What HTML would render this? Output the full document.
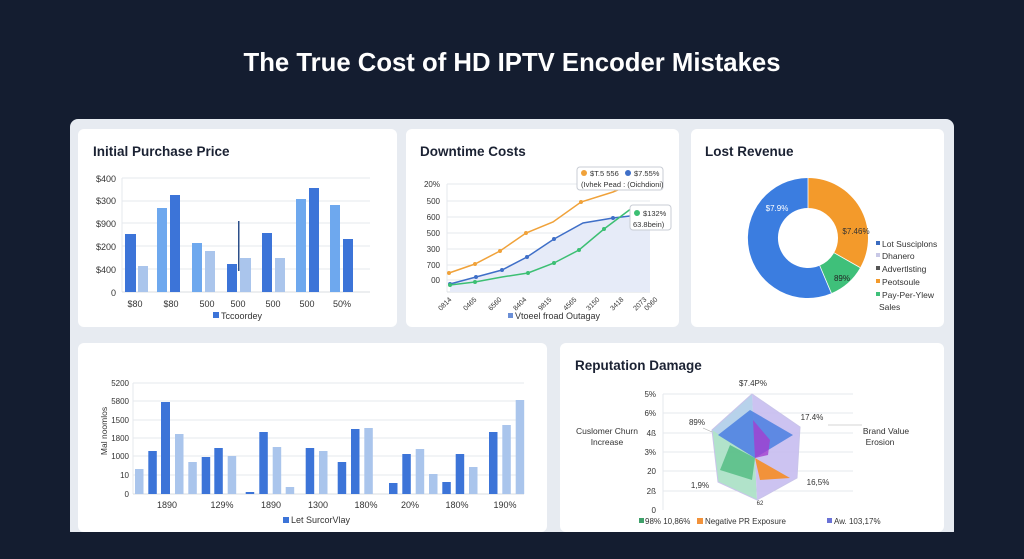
<!DOCTYPE html>
<html><head><meta charset="utf-8"><style>
html,body{margin:0;padding:0;background:#131c2f;}
svg{display:block;font-family:"Liberation Sans",sans-serif;}
.t{font-size:9px;fill:#333;}
.h{font-size:13.5px;font-weight:bold;fill:#1b2233;}
.g{stroke:#e6e9ee;stroke-width:1;}
.D{fill:#3c74d8}.M{fill:#6ea8ee}.L{fill:#aac5ec}
</style></head><body>
<svg width="1024" height="559" viewBox="0 0 1024 559" xmlns="http://www.w3.org/2000/svg">
<rect width="1024" height="559" fill="#141d30"/>
<text x="512" y="71" text-anchor="middle" font-size="26" font-weight="bold" fill="#fff" textLength="537" lengthAdjust="spacingAndGlyphs">The True Cost of HD IPTV Encoder Mistakes</text>
<rect x="70" y="119" width="884" height="420" rx="8" fill="#e7ebf1"/>
<rect x="78" y="129" width="319" height="198" rx="6" fill="#fff"/>
<rect x="406" y="129" width="273" height="198" rx="6" fill="#fff"/>
<rect x="691" y="129" width="253" height="198" rx="6" fill="#fff"/>
<rect x="78" y="343" width="469" height="189" rx="6" fill="#fff"/>
<rect x="560" y="343" width="384" height="189" rx="6" fill="#fff"/>
<rect x="0" y="532" width="1024" height="27" fill="#141d30"/>

<!-- Card1 -->
<text x="93" y="156" class="h">Initial Purchase Price</text>
<g class="g"><line x1="122" y1="178" x2="370" y2="178"/><line x1="122" y1="201" x2="370" y2="201"/><line x1="122" y1="223" x2="370" y2="223"/><line x1="122" y1="246" x2="370" y2="246"/><line x1="122" y1="269" x2="370" y2="269"/><line x1="122" y1="178" x2="122" y2="292"/></g>
<line x1="122" y1="292" x2="370" y2="292" stroke="#d8dce2"/>
<g class="t" text-anchor="end"><text x="116" y="182">$400</text><text x="116" y="204">$300</text><text x="116" y="227">$900</text><text x="116" y="250">$200</text><text x="116" y="273">$400</text><text x="116" y="296">0</text></g>
<rect x="125" y="234" width="11" height="58" class="D"/><rect x="138" y="266" width="10" height="26" class="L"/>
<rect x="157" y="208" width="10" height="84" class="M"/><rect x="170" y="195" width="10" height="97" class="D"/>
<rect x="192" y="243" width="10" height="49" class="M"/><rect x="205" y="251" width="10" height="41" class="L"/>
<rect x="227" y="264" width="10" height="28" class="D"/><rect x="238" y="221" width="1.5" height="50" fill="#2c4f8a"/><rect x="240" y="258" width="11" height="34" class="L"/>
<rect x="262" y="233" width="10" height="59" class="D"/><rect x="275" y="258" width="10" height="34" class="L"/>
<rect x="296" y="199" width="10" height="93" class="M"/><rect x="309" y="188" width="10" height="104" class="D"/>
<rect x="330" y="205" width="10" height="87" class="M"/><rect x="343" y="239" width="10" height="53" class="D"/>
<g class="t" text-anchor="middle"><text x="135" y="307">$80</text><text x="171" y="307">$80</text><text x="207" y="307">500</text><text x="238" y="307">500</text><text x="273" y="307">500</text><text x="307" y="307">500</text><text x="342" y="307">50%</text></g>
<rect x="213" y="312" width="6" height="6" class="D"/><text x="221" y="319" class="t">Tccoordey</text>

<!-- Card2 -->
<text x="420" y="156" class="h">Downtime Costs</text>
<g class="g"><line x1="447" y1="184" x2="650" y2="184"/><line x1="447" y1="201" x2="650" y2="201"/><line x1="447" y1="217" x2="650" y2="217"/><line x1="447" y1="233" x2="650" y2="233"/><line x1="447" y1="249" x2="650" y2="249"/><line x1="447" y1="265" x2="650" y2="265"/><line x1="447" y1="280" x2="650" y2="280"/><line x1="447" y1="184" x2="447" y2="292"/></g>
<line x1="447" y1="292" x2="650" y2="292" stroke="#d8dce2"/>
<polygon points="450,284 476,277 502,270 527,257 554,239 583,223 613,218 650,214 650,292 450,292" fill="#e6ebf8"/>
<g font-size="8" fill="#333" text-anchor="end"><text x="440" y="187">20%</text><text x="440" y="204">500</text><text x="440" y="220">600</text><text x="440" y="236">500</text><text x="440" y="252">300</text><text x="440" y="268">700</text><text x="440" y="283">00</text></g>
<polyline points="449,273 475,264 500,251 526,233 553,222 581,202 613,192 620,189" fill="none" stroke="#f0a23a" stroke-width="1.5"/>
<polyline points="450,284 476,277 502,270 527,257 554,239 583,223 613,218 630,216" fill="none" stroke="#3f6fc8" stroke-width="1.5"/>
<polyline points="450,285 475,282 502,277 528,273 554,263 579,250 604,229 632,208" fill="none" stroke="#3cbf73" stroke-width="1.5"/>
<g fill="#f0a23a"><circle cx="449" cy="273" r="2"/><circle cx="475" cy="264" r="2"/><circle cx="500" cy="251" r="2"/><circle cx="526" cy="233" r="2"/><circle cx="581" cy="202" r="2"/></g>
<g fill="#3f6fc8"><circle cx="450" cy="284" r="2"/><circle cx="476" cy="277" r="2"/><circle cx="502" cy="270" r="2"/><circle cx="527" cy="257" r="2"/><circle cx="554" cy="239" r="2"/><circle cx="613" cy="218" r="2"/></g>
<g fill="#3cbf73"><circle cx="450" cy="285" r="2"/><circle cx="475" cy="282" r="2"/><circle cx="528" cy="273" r="2"/><circle cx="554" cy="263" r="2"/><circle cx="579" cy="250" r="2"/><circle cx="604" cy="229" r="2"/></g>
<rect x="577" y="167" width="86" height="23" rx="3" fill="#fff" stroke="#c8ccd4"/>
<circle cx="584" cy="173" r="3" fill="#f0a23a"/><text x="590" y="176" font-size="7.5" fill="#333">$T.5 556</text>
<circle cx="628" cy="173" r="3" fill="#3f6fc8"/><text x="634" y="176" font-size="7.5" fill="#333">$7.55%</text>
<text x="581" y="187" font-size="7.5" fill="#333">(Ivhek Pead : (Oichdioni)</text>
<rect x="630" y="205" width="41" height="25" rx="3" fill="#fff" stroke="#c8ccd4"/>
<circle cx="637" cy="213" r="3" fill="#3cbf73"/><text x="643" y="216" font-size="7.5" fill="#333">$132%</text>
<text x="633" y="227" font-size="7.5" fill="#333">63.8bein)</text>
<g font-size="7" fill="#333" text-anchor="end">
<text transform="translate(452,300) rotate(-45)">0814</text><text transform="translate(477,300) rotate(-45)">0465</text><text transform="translate(502,300) rotate(-45)">6560</text><text transform="translate(527,300) rotate(-45)">8404</text><text transform="translate(552,300) rotate(-45)">9815</text><text transform="translate(577,300) rotate(-45)">4565</text><text transform="translate(600,300) rotate(-45)">3150</text><text transform="translate(624,300) rotate(-45)">3418</text><text transform="translate(647,300) rotate(-45)">2073</text><text transform="translate(658,300) rotate(-45)">0060</text></g>
<rect x="508" y="313" width="5" height="5" fill="#6b8fd6"/><text x="515" y="319" class="t">Vtoeel froad Outagay</text>

<!-- Card3 donut -->
<text x="705" y="156" class="h">Lost Revenue</text>
<path d="M808,178 A60,60 0 0 1 860.2,267.6 L834.1,252.8 A30,30 0 0 0 808,208 Z" fill="#f39a2b"/>
<path d="M860.2,267.6 A60,60 0 0 1 831.4,293.2 L819.7,265.6 A30,30 0 0 0 834.1,252.8 Z" fill="#3fc07a"/>
<path d="M831.4,293.2 A60,60 0 1 1 808,178 L808,208 A30,30 0 1 0 819.7,265.6 Z" fill="#3b7de0"/>
<g stroke="#fff" stroke-width="0.8"><line x1="808" y1="178" x2="808" y2="208"/><line x1="860.2" y1="267.6" x2="834.1" y2="252.8"/><line x1="831.4" y1="293.2" x2="819.7" y2="265.6"/></g>
<text x="777" y="211" font-size="8" fill="#fff" text-anchor="middle">$7.9%</text>
<text x="856" y="234" font-size="8" fill="#333" text-anchor="middle">$7.46%</text>
<text x="842" y="281" font-size="8" fill="#222" text-anchor="middle">89%</text>
<g font-size="8.5" fill="#333">
<rect x="876" y="241" width="4" height="4" fill="#3b6cc0"/><text x="882" y="247">Lot Susciplons</text>
<rect x="876" y="253" width="4" height="4" fill="#c8c8e6"/><text x="882" y="259">Dhanero</text>
<rect x="876" y="266" width="4" height="4" fill="#555"/><text x="882" y="272">Advertlsting</text>
<rect x="876" y="279" width="4" height="4" fill="#f39a2b"/><text x="882" y="285">Peotsoule</text>
<rect x="876" y="292" width="4" height="4" fill="#3fc07a"/><text x="882" y="298">Pay-Per-Ylew</text>
<text x="879" y="310">Sales</text></g>

<!-- Card4 -->
<g class="g"><line x1="133" y1="383" x2="524" y2="383"/><line x1="133" y1="401" x2="524" y2="401"/><line x1="133" y1="420" x2="524" y2="420"/><line x1="133" y1="438" x2="524" y2="438"/><line x1="133" y1="456" x2="524" y2="456"/><line x1="133" y1="475" x2="524" y2="475"/><line x1="133" y1="383" x2="133" y2="494"/></g>
<line x1="133" y1="494" x2="524" y2="494" stroke="#d8dce2"/>
<g font-size="8" fill="#333" text-anchor="end"><text x="129" y="386">5200</text><text x="129" y="404">5800</text><text x="129" y="423">1500</text><text x="129" y="441">1800</text><text x="129" y="459">1000</text><text x="129" y="478">10</text><text x="129" y="497">0</text></g>
<text transform="translate(107,431) rotate(-90)" font-size="8.5" fill="#333" text-anchor="middle">Mal noomlos</text>
<g>
<rect x="135" y="469" width="8.5" height="25" class="L"/><rect x="148.3" y="451" width="8.5" height="43" class="D"/><rect x="161" y="402" width="9" height="92" class="D"/><rect x="175" y="434" width="8.5" height="60" class="L"/><rect x="188.3" y="462" width="8.5" height="32" class="L"/><rect x="201.7" y="457" width="8.5" height="37" class="D"/><rect x="214.3" y="448" width="8.5" height="46" class="D"/><rect x="227.7" y="456" width="8.5" height="38" class="L"/><rect x="245.7" y="492" width="8.5" height="2" class="D"/><rect x="259.3" y="432" width="8.5" height="62" class="D"/><rect x="272.7" y="447" width="8.5" height="47" class="L"/><rect x="285.7" y="487" width="8.5" height="7" class="L"/><rect x="305.7" y="448" width="8.5" height="46" class="D"/><rect x="319" y="451" width="8.5" height="43" class="L"/><rect x="337.7" y="462" width="8.5" height="32" class="D"/><rect x="351" y="429" width="8.5" height="65" class="D"/><rect x="364.3" y="428" width="8.5" height="66" class="L"/><rect x="389" y="483" width="8.5" height="11" class="D"/><rect x="402.3" y="454" width="8.5" height="40" class="D"/><rect x="415.7" y="449" width="8.5" height="45" class="L"/><rect x="429" y="474" width="8.5" height="20" class="L"/><rect x="442.3" y="482" width="8.5" height="12" class="D"/><rect x="455.7" y="454" width="8.5" height="40" class="D"/><rect x="469" y="467" width="8.5" height="27" class="L"/><rect x="489" y="432" width="8.5" height="62" class="D"/><rect x="502.3" y="425" width="8.5" height="69" class="L"/><rect x="515.7" y="400" width="8.5" height="94" class="L"/>
</g>
<g class="t" text-anchor="middle"><text x="167" y="508">1890</text><text x="222" y="508">129%</text><text x="271" y="508">1890</text><text x="318" y="508">1300</text><text x="366" y="508">180%</text><text x="410" y="508">20%</text><text x="457" y="508">180%</text><text x="505" y="508">190%</text></g>
<rect x="283" y="517" width="6" height="6" class="D"/><text x="291" y="523" class="t">Let SurcorVlay</text>

<!-- Card5 radar -->
<text x="575" y="370" class="h">Reputation Damage</text>
<g class="g"><line x1="663" y1="394" x2="853" y2="394"/><line x1="663" y1="413" x2="853" y2="413"/><line x1="663" y1="433" x2="853" y2="433"/><line x1="663" y1="452" x2="853" y2="452"/><line x1="663" y1="471" x2="853" y2="471"/><line x1="663" y1="491" x2="853" y2="491"/><line x1="663" y1="394" x2="663" y2="510"/></g>
<g font-size="8" fill="#333" text-anchor="end"><text x="656" y="397">5%</text><text x="656" y="416">6%</text><text x="656" y="436">4ß</text><text x="656" y="455">3%</text><text x="656" y="474">20</text><text x="656" y="494">2ß</text><text x="656" y="513">0</text></g>
<polygon points="752,394 755,458 757,500 718,482 712,430" fill="#a8e0c4" opacity="0.9"/>
<polygon points="752,394 800,427 797,478 757,500 755,458" fill="#c7bdf0" opacity="0.9"/>
<polygon points="752,394 712,430 755,458" fill="#b9cdf2" opacity="0.8"/>
<polygon points="750,410 718,435 755,458 793,435" fill="#4a7fe0" opacity="0.85"/>
<polygon points="730,445 720,470 752,480 755,458" fill="#5bbf88" opacity="0.9"/>
<polygon points="755,458 790,478 760,480" fill="#f2923a"/>
<polygon points="755,458 753,420 770,440 768,455" fill="#a23fd0" opacity="0.8"/>
<polygon points="752,394 712,430 718,482 757,500 797,478 800,427" fill="none" stroke="#c9c4ea" stroke-width="1"/>
<g font-size="8" fill="#333" text-anchor="middle"><text x="753" y="386">$7.4P%</text><text x="812" y="420">17.4%</text><text x="697" y="425">89%</text><text x="700" y="488">1,9%</text><text x="818" y="485">16,5%</text><text x="760" y="505" font-size="6">62</text></g>
<line x1="703" y1="428" x2="712" y2="432" stroke="#aaa" stroke-width="0.6"/>
<line x1="828" y1="425" x2="862" y2="425" stroke="#aaa" stroke-width="0.6"/>
<g font-size="8.5" fill="#333" text-anchor="middle"><text x="607" y="434">Cuslomer Churn</text><text x="607" y="445">Increase</text><text x="886" y="434">Brand Value</text><text x="880" y="445">Erosion</text></g>
<g font-size="8" fill="#333"><rect x="639" y="518" width="5" height="5" fill="#3fa06a"/><text x="645" y="524">98% 10,86%</text>
<rect x="697" y="518" width="6" height="6" fill="#f2923a"/><text x="705" y="524">Negative PR Exposure</text>
<rect x="827" y="518" width="5" height="5" fill="#6a72d6"/><text x="834" y="524">Aw. 103,17%</text></g>
</svg>
</body></html>
